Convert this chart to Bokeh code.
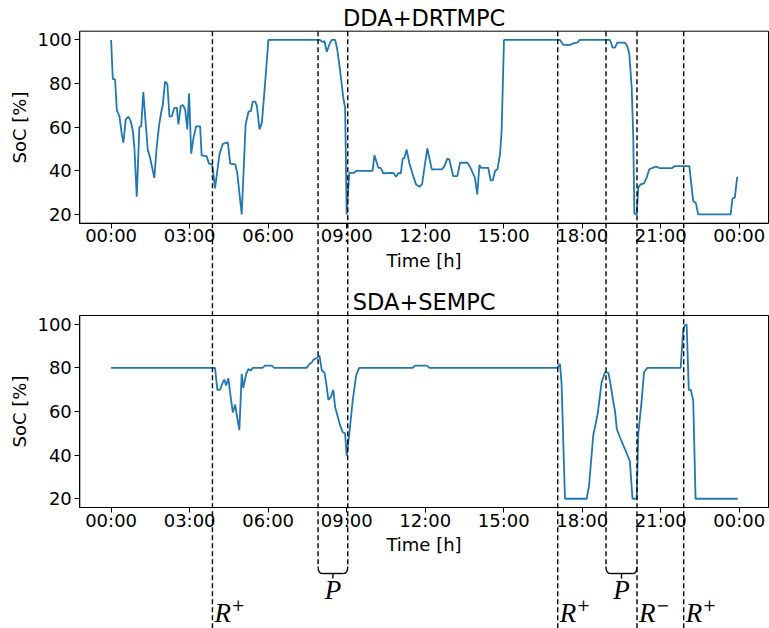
from bokeh.plotting import figure
from bokeh.models import Label, FixedTicker, Range1d, LinearAxis
from bokeh.embed import file_html
from bokeh.resources import INLINE

# ---------------- data ----------------
titles = ["DDA+DRTMPC", "SDA+SEMPC"]

t_dda = [0.00, 0.065, 0.15, 0.22, 0.32, 0.41, 0.47, 0.56, 0.66, 0.75, 0.83, 0.89, 0.98, 1.08, 1.15,
         1.23, 1.32, 1.40, 1.49, 1.65, 1.74, 1.83, 1.91, 1.97, 2.06, 2.15, 2.23, 2.32, 2.41, 2.51,
         2.57, 2.66, 2.74, 2.83, 2.91, 2.98, 3.06, 3.15, 3.25, 3.40, 3.46, 3.65, 3.74, 3.85, 3.88,
         3.97, 4.14, 4.27, 4.46, 4.55, 4.74, 4.82, 4.99, 5.14, 5.25, 5.34, 5.41, 5.51, 5.57, 5.67,
         5.76, 5.86, 6.01, 7.98, 8.09, 8.15, 8.24, 8.37, 8.43, 8.56, 8.64, 8.75, 8.87, 8.94, 9.00,
         9.10, 9.28, 9.38, 9.99, 10.06, 10.21, 10.30, 10.40, 10.78, 10.89, 10.97, 11.07, 11.14,
         11.20, 11.29, 11.39, 11.52, 11.65, 11.78, 11.88, 11.99, 12.08, 12.25, 12.63, 12.72, 12.85,
         12.92, 13.07, 13.23, 13.33, 13.61, 13.71, 13.90, 13.99, 14.07, 14.13, 14.41, 14.50, 14.58,
         14.67, 14.76, 14.86, 14.92, 15.01, 17.15, 17.28, 17.53, 17.63, 17.81, 17.91, 19.06, 19.16,
         19.25, 19.34, 19.63, 19.72, 19.80, 19.89, 19.95, 19.99, 20.08, 20.14, 20.23, 20.36, 20.46,
         20.56, 20.69, 20.82, 20.97, 21.42, 21.54, 22.09, 22.24, 22.34, 22.43, 23.67, 23.74, 23.83,
         23.92]
soc_dda = [100, 82, 82, 67.7, 65, 56.7, 52.9, 63.6, 64.8, 62.8, 58.3, 50.6, 28.1, 60.1, 60.4,
           76.1, 62, 49.8, 46, 36.8, 50.6, 60.6, 66.7, 69.7, 80.9, 79.7, 64.8, 65.1, 68.7, 69,
           61.3, 69.7, 70.2, 68.1, 59, 75.5, 47.9, 55.2, 60.4, 60.4, 47.1, 46.7, 43.3, 43, 41.4,
           32, 47.6, 52.4, 53, 43.3, 43, 39.1, 20, 61.3, 67.1, 67.4, 71.7, 71.7, 69.7, 59,
           62, 76.6, 100, 100, 99, 99.5, 94.6, 98.8, 100, 100, 95.7, 85.8, 73.5, 69, 20,
           39.1, 39.1, 40, 40, 47.1, 41.4, 41.4, 38.9, 39.1, 37.3, 38.9, 38.9, 45.6,
           45.8, 49.8, 43.7, 38.4, 33.8, 32.7, 33.8, 43, 50.3, 40.7, 40.7, 41.8, 45.7,
           45.2, 37.6, 37.6, 43.7, 43.7, 41.9, 36.8, 29.2, 42.7, 41.4, 41.4, 35.6, 35.6,
           39.9, 40.7, 47.6, 58.3, 100, 100, 97.7, 97.7, 98.3, 98.8, 100, 100, 96.5,
           96.5, 98.8, 98.8, 97.2, 93.4, 78.1, 55.2, 20.5, 20, 32.3, 33.8, 34.2, 36.8,
           40.7, 41.4, 41.9, 41.2, 41.2, 42.2, 42.2, 26.1, 25.3, 20, 20, 27.4, 27.7,
           37.3]

t_sda = [0.00, 3.97, 4.06, 4.16, 4.27, 4.33, 4.39, 4.48, 4.57, 4.65, 4.74, 4.80, 4.90, 4.99, 5.05,
         5.16, 5.25, 5.34, 5.41, 5.79, 5.88, 6.14, 6.23, 7.47, 7.58, 7.67, 7.73, 7.86, 7.96, 8.05,
         8.15, 8.22, 8.30, 8.39, 8.49, 8.56, 8.64, 8.75, 8.85, 8.94, 9.00, 9.10, 9.23, 9.36, 9.48,
         11.52, 11.61, 12.06, 12.16, 17.05, 17.15, 17.21, 17.34, 18.17, 18.26, 18.42, 18.59, 18.74,
         18.87, 19.00, 19.09, 19.19, 19.25, 19.32, 19.44, 19.63, 19.82, 19.92, 20.08, 20.14, 20.27,
         20.36, 20.49, 21.76, 21.86, 21.92, 21.99, 22.07, 22.15, 22.24, 22.33, 23.94]
soc_sda = [80, 80, 69.9, 69.9, 73.4, 74.5, 71.9, 75.2, 66.5, 59.6, 63.2, 58.5, 51.5, 77.2, 70.8,
           77.2, 79.5, 78.8, 80, 80, 81, 81, 80, 80, 81.8, 82.5, 83.8, 84.5, 85.6, 78.8,
           78, 72.9, 65.3, 66.5, 69.9, 61.9, 58.5, 53.5, 50.5, 50, 39.8, 49.7, 65, 76.5, 80,
           80, 81, 81, 80, 80, 81.8, 72.7, 20, 20, 26, 49, 58.9, 73.4,
           78, 77.7, 71.9, 64.2, 60.4, 52, 48.2, 42.8, 37.2, 20, 20, 49.7, 65,
           78, 80, 80, 97.9, 99.4, 99.9, 69.9, 69.9, 65, 20, 20]

hour_ticks = [0, 3, 6, 9, 12, 15, 18, 21, 24]
hour_labels = ["00:00", "03:00", "06:00", "09:00", "12:00", "15:00", "18:00", "21:00", "00:00"]
soc_ticks = [20, 40, 60, 80, 100]

r_plus_times = [3.872, 17.063, 21.876]
r_minus_times = [20.092]
p_windows = [(7.907, 9.041), (18.908, 20.092)]

# ---------------- layout (pixels) ----------------
W, H = 769, 628
BOX_LEFT, BOX_RIGHT = 79.3, 768.0
TOP_BOX = (30.7, 222.7)      # top / bottom pixel of upper axes box
BOT_BOX = (315.0, 507.0)     # top / bottom pixel of lower axes box

X_LIM = (-1.196, 25.116)
Y_LIM = (16.0, 104.0)
LINE_COLOR = "#1f77b4"
FONT = "DejaVu Sans"
MATH_FONT = "Liberation Serif"
DASH = "5 3"

px_h = (BOX_RIGHT - BOX_LEFT) / (X_LIM[1] - X_LIM[0])
px_u = (TOP_BOX[1] - TOP_BOX[0]) / (Y_LIM[1] - Y_LIM[0])

x_rng = Range1d(X_LIM[0] - BOX_LEFT / px_h, X_LIM[1] + (W - BOX_RIGHT) / px_h)
top_rng = Range1d(Y_LIM[0] - (H - TOP_BOX[1]) / px_u, Y_LIM[1] + TOP_BOX[0] / px_u)
bot_rng = Range1d(Y_LIM[0] - (H - BOT_BOX[1]) / px_u, Y_LIM[1] + BOT_BOX[0] / px_u)
OFFSET = bot_rng.end - top_rng.end   # top-range value -> bottom-range value


def bot_y(pix):
    """value in the lower panel's range for a pixel row"""
    return bot_rng.end - pix / px_u


p = figure(width=W, height=H, output_backend="svg", toolbar_location=None,
           x_range=x_rng, y_range=top_rng, x_axis_location=None, y_axis_location=None,
           min_border=0, title=None)
p.extra_y_ranges = {"bottom": bot_rng}
p.grid.visible = False
p.outline_line_color = None
p.background_fill_color = "white"
p.border_fill_color = "white"


def style(ax):
    ax.minor_tick_line_color = None
    ax.major_tick_in = 0
    ax.major_tick_out = 5
    ax.major_tick_line_color = "black"
    ax.axis_line_color = "black"
    ax.major_label_text_font = FONT
    ax.major_label_text_font_size = "18px"
    ax.major_label_text_color = "black"
    ax.axis_label_text_font = FONT
    ax.axis_label_text_font_size = "18px"
    ax.axis_label_text_font_style = "normal"
    ax.axis_label_text_color = "black"


for rname, title, t, soc in [("default", titles[0], t_dda, soc_dda),
                             ("bottom", titles[1], t_sda, soc_sda)]:
    p.quad(left=[X_LIM[0]], right=[X_LIM[1]], bottom=[Y_LIM[0]], top=[Y_LIM[1]],
           fill_color="white", line_color="black", line_width=1, y_range_name=rname)
    p.line(t, soc, line_color=LINE_COLOR, line_width=1.8, y_range_name=rname)

    xa = LinearAxis(fixed_location=Y_LIM[0], y_range_name=rname, bounds=X_LIM,
                    ticker=FixedTicker(ticks=hour_ticks), axis_label="Time [h]")
    xa.major_label_overrides = {tk: lb for tk, lb in zip(hour_ticks, hour_labels)}
    xa.major_label_standoff = -3
    xa.axis_label_standoff = 0
    style(xa)
    p.add_layout(xa, "below")

    ya = LinearAxis(fixed_location=X_LIM[0], y_range_name=rname, bounds=Y_LIM,
                    ticker=FixedTicker(ticks=soc_ticks), axis_label="SoC [%]")
    ya.major_label_standoff = 3
    ya.axis_label_standoff = 4
    style(ya)
    p.add_layout(ya, "left")

    p.add_layout(Label(x=(X_LIM[0] + X_LIM[1]) / 2, y=110, y_range_name=rname, text=title,
                       text_align="center", text_baseline="middle",
                       text_font=FONT, text_font_size="22.5px", text_color="black"))

# ---------------- event markers ----------------
full_lines = r_plus_times + r_minus_times
event_times = sorted(set(full_lines + [a for w in p_windows for a in w]))
LINE_TOP = Y_LIM[1] + OFFSET          # top edge of the upper box, in lower-range units
P_END = bot_y(566)
R_END = bot_rng.start - 1
p.segment(x0=event_times, x1=event_times, y0=[LINE_TOP] * len(event_times),
          y1=[R_END if tt in full_lines else P_END for tt in event_times],
          y_range_name="bottom", line_color="black", line_width=1.4, line_dash=DASH)

# braces under the P windows
BR_Y = bot_y(573)
BR_TIP = bot_y(578)
CORNER = 0.16
for a, b in p_windows:
    m = (a + b) / 2
    p.quadratic(x0=[a, b], y0=[P_END, P_END], x1=[a + CORNER, b - CORNER], y1=[BR_Y, BR_Y],
                cx=[a, b], cy=[BR_Y, BR_Y], line_color="black", line_width=1.4,
                y_range_name="bottom")
    p.segment(x0=[a + CORNER, m], y0=[BR_Y, BR_Y], x1=[b - CORNER, m], y1=[BR_Y, BR_TIP],
              line_color="black", line_width=1.4, y_range_name="bottom")
    p.add_layout(Label(x=m, y=bot_y(589), y_range_name="bottom", text="P",
                       text_align="center", text_baseline="middle", text_font=MATH_FONT,
                       text_font_style="italic", text_font_size="27px", text_color="black"))

for tt, sign in [(x, "+") for x in r_plus_times] + [(x, "\u2212") for x in r_minus_times]:
    p.add_layout(Label(x=tt, y=bot_y(612), x_offset=2, y_range_name="bottom", text="R",
                       text_align="left", text_baseline="middle", text_font=MATH_FONT,
                       text_font_style="italic", text_font_size="27px", text_color="black"))
    p.add_layout(Label(x=tt, y=bot_y(612), x_offset=19, y_offset=7.5, y_range_name="bottom",
                       text=sign, text_align="left", text_baseline="middle",
                       text_font="DejaVu Serif", text_font_size="16px", text_color="black"))

open("out.html", "w").write(file_html(p, INLINE))
